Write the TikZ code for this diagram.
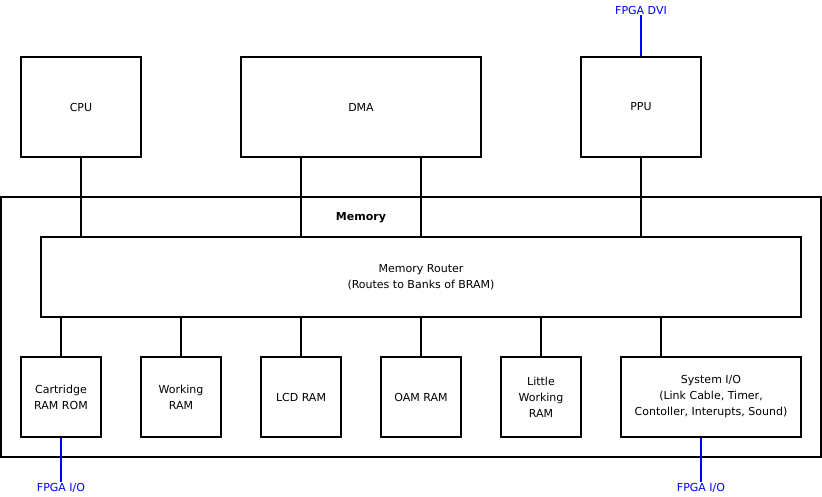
\documentclass[tikz,border=0pt]{standalone}
\usepackage{fontspec}
\setmainfont{DejaVu Sans}
\usetikzlibrary{positioning}
\tikzset{
  block/.style={draw,line width=1.5pt,fill=white,align=center,inner sep=0pt,font=\fontsize{11}{16}\selectfont},
  link/.style={line width=1.5pt},
  fpga/.style={text=blue,inner sep=1pt,font=\fontsize{11}{13}\selectfont},
  fpgalink/.style={line width=1.5pt,blue}
}
\begin{document}
\begin{tikzpicture}[x=1pt,y=-1pt]
    \useasboundingbox (0,0) rectangle (822,496);
    % top level units
    \node[block,minimum width=120,minimum height=100] (cpu) at (81,107) {CPU};
    \node[block,minimum width=240,minimum height=100] (dma) at (361,107) {DMA};
    \node[block,minimum width=120,minimum height=100] (ppu) at (641,107) {PPU};
    % memory
    \node[block,minimum width=820,minimum height=260] (mem) at (411,327) {};
    \node[font=\fontsize{11}{13}\selectfont\bfseries] (memlabel) at (361,218) {Memory};
    \node[block,minimum width=760,minimum height=80] (router) at (421,277) {Memory Router\\(Routes to Banks of BRAM)};
    \node[block,minimum width=80,minimum height=80] (cart) at (61,397) {Cartridge\\RAM ROM};
    \node[block,minimum width=80,minimum height=80] (wram) at (181,397) {Working\\RAM};
    \node[block,minimum width=80,minimum height=80] (lcd) at (301,397) {LCD RAM};
    \node[block,minimum width=80,minimum height=80] (oam) at (421,397) {OAM RAM};
    \node[block,minimum width=80,minimum height=80] (lwram) at (541,397) {Little\\Working\\RAM};
    \node[block,minimum width=180,minimum height=80] (sysio) at (711,397) {System I/O\\(Link Cable, Timer,\\Contoller, Interupts, Sound)};
    % buses
    \draw[link] (cpu.south) -- (cpu.south |- router.north);
    \draw[link] ([xshift=-60]dma.south) -- ([xshift=-60]dma.south |- router.north);
    \draw[link] ([xshift=60]dma.south) -- ([xshift=60]dma.south |- router.north);
    \draw[link] (ppu.south) -- (ppu.south |- router.north);
    \foreach \n in {cart,wram,lcd,oam,lwram}
      \draw[link] (\n.north) -- (\n.north |- router.south);
    \draw[link] ([xshift=-50]sysio.north) -- ([xshift=-50]sysio.north |- router.south);
    % fpga pins
    \node[fpga] (dvi) at (641,10) {FPGA DVI};
    \node[fpga] (cartio) at (61,488) {FPGA I/O};
    \node[fpga] (sysfpga) at (701,488) {FPGA I/O};
    \draw[fpgalink] (dvi.south) -- (ppu.north);
    \draw[fpgalink] (cart.south) -- (cartio.north);
    \draw[fpgalink] ([xshift=-10]sysio.south) -- (sysfpga.north);
\end{tikzpicture}
\end{document}
